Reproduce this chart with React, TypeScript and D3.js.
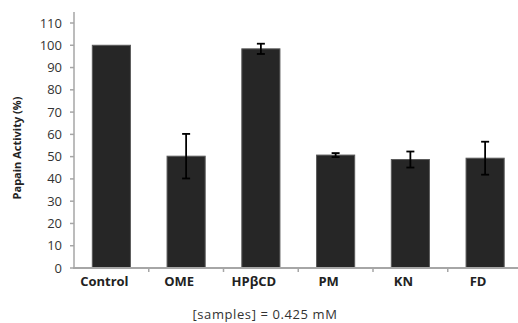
import React from "react";
import * as d3 from "d3";

const samples = ["Control", "OME", "HP\u03b2CD", "PM", "KN", "FD"];
const activity = [100, 50.2, 98.4, 50.7, 48.7, 49.3];
const errors = [0, 10, 2.3, 0.9, 3.6, 7.4];
const yTicks = [0, 10, 20, 30, 40, 50, 60, 70, 80, 90, 100, 110];

const width = 518;
const height = 323;
const margin = { top: 23, left: 74, bottom: 268, right: 522.5 };
const font = "'Open Sans', 'DejaVu Sans', sans-serif";

const App = () => {
  const x = d3
    .scaleBand()
    .domain(samples)
    .range([margin.left, margin.right])
    .paddingInner(0.49)
    .paddingOuter(0.245);
  const y = d3.scaleLinear().domain([0, 110]).range([margin.bottom, margin.top]);
  const step = x.step();
  const bw = x.bandwidth();

  return (
    <svg
      width={width}
      height={height}
      style={{ position: "absolute", left: 0, top: 0, background: "#fff" }}
    >
      {/* bars */}
      {samples.map((s, i) => (
        <rect
          key={s}
          x={x(s)}
          y={y(activity[i])}
          width={bw}
          height={y(0) - y(activity[i])}
          fill="#262626"
          stroke="#5a5a5a"
          strokeWidth={1}
        />
      ))}

      {/* error bars */}
      {samples.map((s, i) => {
        if (!errors[i]) return null;
        const cx = x(s) + bw / 2;
        const hi = y(activity[i] + errors[i]);
        const lo = y(activity[i] - errors[i]);
        return (
          <g key={"e" + s} stroke="#000" strokeWidth={1.8}>
            <line x1={cx} x2={cx} y1={hi} y2={lo} />
            <line x1={cx - 4} x2={cx + 4} y1={hi} y2={hi} />
            <line x1={cx - 4} x2={cx + 4} y1={lo} y2={lo} />
          </g>
        );
      })}

      {/* y axis */}
      <line x1={margin.left} x2={margin.left} y1={12} y2={y(0) + 1} stroke="#a6a6a6" strokeWidth={1.5} />
      {yTicks.map((t) => (
        <g key={t}>
          <line x1={margin.left - 4} x2={margin.left} y1={y(t)} y2={y(t)} stroke="#a6a6a6" strokeWidth={1.5} />
          <text
            x={margin.left - 12}
            y={y(t)}
            dy="0.35em"
            textAnchor="end"
            fontFamily={font}
            fontSize={13}
            fill="#333"
          >
            {t}
          </text>
        </g>
      ))}

      {/* x axis */}
      <line x1={margin.left - 1} x2={width} y1={y(0)} y2={y(0)} stroke="#a6a6a6" strokeWidth={2} />
      {samples.slice(1).map((s) => (
        <line
          key={"t" + s}
          x1={x(s) - (step - bw) / 2}
          x2={x(s) - (step - bw) / 2}
          y1={y(0)}
          y2={y(0) + 4}
          stroke="#a6a6a6"
          strokeWidth={1.5}
        />
      ))}
      {samples.map((s) => (
        <text
          key={"l" + s}
          x={x(s) + bw / 2 - 7}
          y={286}
          textAnchor="middle"
          fontFamily={font}
          fontSize={13}
          fontWeight="bold"
          fill="#222"
        >
          {s}
        </text>
      ))}

      {/* titles */}
      <text
        transform="translate(21,148) rotate(-90)"
        textAnchor="middle"
        fontFamily={font}
        fontSize={11}
        fontWeight="bold"
        fill="#222"
      >
        Papain Activity (%)
      </text>
      <text
        x={265}
        y={319}
        textAnchor="middle"
        fontFamily={font}
        fontSize={13}
        letterSpacing={0.6}
        fill="#333"
      >
        [samples] = 0.425 mM
      </text>
    </svg>
  );
};

export default App;
